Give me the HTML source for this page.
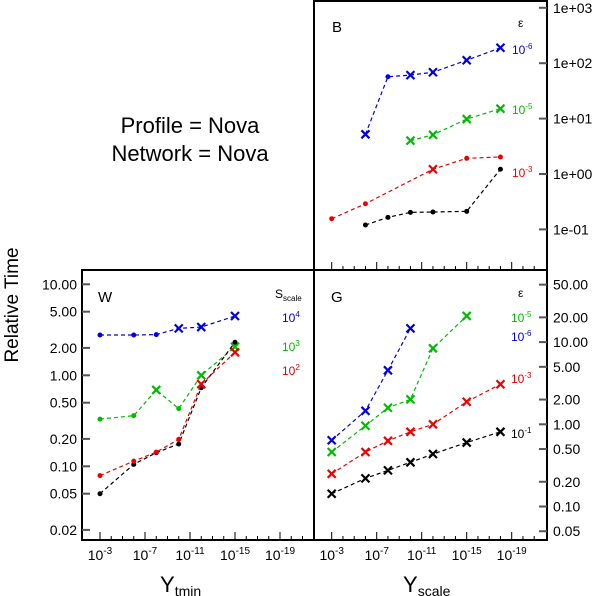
<!DOCTYPE html>
<html><head><meta charset="utf-8"><style>
html,body{margin:0;padding:0;background:#fff;width:600px;height:596px;overflow:hidden}
svg{font-family:"Liberation Sans",sans-serif}
</style></head><body>
<svg id="c" width="600" height="596" viewBox="0 0 600 596" xmlns="http://www.w3.org/2000/svg">
<g id="frames" stroke="#000" stroke-width="2" fill="none">
<line x1="314" y1="0" x2="314" y2="541"/>
<line x1="547" y1="0" x2="547" y2="541"/>
<line x1="81" y1="270" x2="548" y2="270"/>
<line x1="82" y1="270" x2="82" y2="541"/>
<line x1="81" y1="540" x2="548" y2="540"/>
<line x1="313" y1="1" x2="548" y2="1"/>
</g>
<text x="190" y="133" font-size="22" text-anchor="middle">Profile = Nova</text>
<text x="190" y="161" font-size="22" text-anchor="middle">Network = Nova</text>
<text transform="translate(18,305) rotate(-90)" font-size="19" text-anchor="middle">Relative Time</text>
<text x="160" y="592" font-size="22">Y<tspan font-size="14" dy="4">tmin</tspan></text>
<text x="403" y="592" font-size="22">Y<tspan font-size="14" dy="4">scale</tspan></text>
<text x="332" y="32" font-size="15">B</text>
<text x="98" y="302" font-size="15">W</text>
<text x="331" y="302" font-size="15">G</text>
</svg>
<script>
const xExpW=[-3,-6,-8,-10,-12,-15];
const wBlue=[2.77,2.77,2.8,3.28,3.39,4.48];
const wGreen=[0.33,0.36,0.69,0.43,1.0,2.06];
const wRed=[0.079,0.114,0.143,0.198,0.80,1.79];
const wBlack=[0.050,0.105,0.141,0.176,0.73,2.31];
const xExpG=[-3,-6,-8,-10,-12,-15,-18];
const gBlue=[0.64,1.46,4.54,14.7];
const gGreen=[0.46,0.96,1.59,2.01,8.4,20.8];
const gRed=[0.25,0.46,0.63,0.81,1.0,1.88,3.07];
const gBlack=[0.143,0.22,0.275,0.345,0.435,0.60,0.81];
const bBlueX=[-6,-8,-10,-12,-15,-18];
const bBlue=[5.2,57,61,68.6,113,190];
const bGreenX=[-10,-12,-15,-18];
const bGreen=[4.0,5.1,9.8,15.1];
const bRedX=[-3,-6,-12,-15,-18];
const bRed=[0.156,0.29,1.22,1.92,2.03];
const bBlackX=[-6,-8,-10,-12,-15,-18];
const bBlack=[0.12,0.165,0.203,0.206,0.212,1.22];
const wTicks=[10,5,2,1,0.5,0.2,0.1,0.05,0.02];
const gTicks=[50,20,10,5,2,1,0.5,0.2,0.1,0.05];
const bTicks=[1000,100,10,1,0.1];
const bTickLabels=["1e+03","1e+02","1e+01","1e+00","1e-01"];
const xLabelExps=[-3,-7,-11,-15,-19];

const NS="http://www.w3.org/2000/svg";
const svg=document.getElementById('c');
function mk(t,a,p){const e=document.createElementNS(NS,t);for(const k in a)e.setAttribute(k,a[k]);(p||svg).appendChild(e);return e;}
function xs(x0){return e=>x0+(-e-3)*11.25;}
function ys(y1,pd){return v=>y1-Math.log10(v)*pd;}
const panels={
 W:{x:xs(100),y:ys(375.3,91),bot:540},
 G:{x:xs(331.7),y:ys(424.3,82.2),bot:540},
 B:{x:xs(331.7),y:ys(174,55.4),bot:270}
};
const cols={blue:'#0000dd',green:'#00bb00',red:'#ee0000',black:'#000'};
function series(p,name,xsArr,vals,col,marks){
 const P=panels[p];
 const g=mk('g',{});
 
 
 const pts=vals.map((v,i)=>[P.x(xsArr[i]),P.y(v)]);
 const l=mk('polyline',{points:pts.map(q=>q.join(',')).join(' '),fill:'none',stroke:col,'stroke-width':1.2,'stroke-dasharray':'4,3'},g);
 
 
 pts.forEach((q,i)=>{
  let m;
  if(marks[i]==='x'){
   m=mk('path',{d:`M${q[0]-4},${q[1]-4}L${q[0]+4},${q[1]+4}M${q[0]-4},${q[1]+4}L${q[0]+4},${q[1]-4}`,stroke:col,'stroke-width':2.2},g);
  } else m=mk('circle',{cx:q[0],cy:q[1],r:2.5,fill:col},g);
  
  
 });
}
series('W','w-blue',xExpW,wBlue,cols.blue,['o','o','o','x','x','x']);
series('W','w-green',xExpW,wGreen,cols.green,['o','o','x','o','x','x']);
series('W','w-black',xExpW,wBlack,cols.black,['o','o','o','o','o','o']);
series('W','w-red',xExpW,wRed,cols.red,['o','o','o','o','x','x']);
series('G','g-blue',xExpG,gBlue,cols.blue,'xxxx'.split(''));
series('G','g-green',xExpG,gGreen,cols.green,'xxxxxx'.split(''));
series('G','g-red',xExpG,gRed,cols.red,'xxxxxxx'.split(''));
series('G','g-black',xExpG,gBlack,cols.black,'xxxxxxx'.split(''));
series('B','b-blue',bBlueX,bBlue,cols.blue,['x','o','x','x','x','x']);
series('B','b-green',bGreenX,bGreen,cols.green,['x','x','x','x']);
series('B','b-red',bRedX,bRed,cols.red,['o','o','x','o','o']);
series('B','b-black',bBlackX,bBlack,cols.black,['o','o','o','o','o','o']);

['W','G','B'].forEach(p=>{
 const P=panels[p];
 for(let e=-3;e>=-21;e--){
  const major=xLabelExps.includes(e);
  const t=mk('line',{x1:P.x(e),x2:P.x(e),y1:P.bot,y2:P.bot-(major?8:4),stroke:'#000','stroke-width':1});
  
  
 }
 if(p!=='B') xLabelExps.forEach(e=>{
  const t=mk('text',{x:P.x(e),y:560,'font-size':14,'text-anchor':'middle'});
  
  
  t.innerHTML=`10<tspan font-size="10" dy="-6">${e}</tspan>`;
 });
});
function yt(p,ticks,labels,left){
 const P=panels[p];
 ticks.forEach((v,i)=>{
  const y=P.y(v);
  const ax=left?82:547;
  const t=mk('line',{x1:ax,x2:left?ax+8:ax-8,y1:y,y2:y,stroke:'#555','stroke-width':2});
  
  
  const tx=mk('text',{x:left?77:553,y:y+5,'font-size':14,'text-anchor':left?'end':'start'});
  
  
  tx.textContent=labels[i];
 });
}
yt('W',wTicks,wTicks.map(v=>v.toFixed(2)),true);
yt('G',gTicks,gTicks.map(v=>v.toFixed(2)),false);
yt('B',bTicks,bTickLabels,false);

function leg(x,y,col,html,name){
 const t=mk('text',{x:x,y:y,'font-size':12,fill:col});
 
 
 t.innerHTML=html;
}
leg(518,27,'#000','ε','b-legend-title');
leg(512,54,cols.blue,'10<tspan font-size="8" dy="-5">-6</tspan>','b-legend-1e-6');
leg(512,114,cols.green,'10<tspan font-size="8" dy="-5">-5</tspan>','b-legend-1e-5');
leg(512,177,cols.red,'10<tspan font-size="8" dy="-5">-3</tspan>','b-legend-1e-3');
leg(518,297,'#000','ε','g-legend-title');
leg(511,322,cols.green,'10<tspan font-size="8" dy="-5">-5</tspan>','g-legend-1e-5');
leg(511,341,cols.blue,'10<tspan font-size="8" dy="-5">-6</tspan>','g-legend-1e-6');
leg(511,383,cols.red,'10<tspan font-size="8" dy="-5">-3</tspan>','g-legend-1e-3');
leg(511,438,'#000','10<tspan font-size="8" dy="-5">-1</tspan>','g-legend-1e-1');
leg(275,298,'#000','S<tspan font-size="8" dy="3">scale</tspan>','w-legend-title');
leg(282,322,cols.blue,'10<tspan font-size="8" dy="-5">4</tspan>','w-legend-1e4');
leg(282,351,cols.green,'10<tspan font-size="8" dy="-5">3</tspan>','w-legend-1e3');
leg(282,375,cols.red,'10<tspan font-size="8" dy="-5">2</tspan>','w-legend-1e2');
</script>
</body></html>
